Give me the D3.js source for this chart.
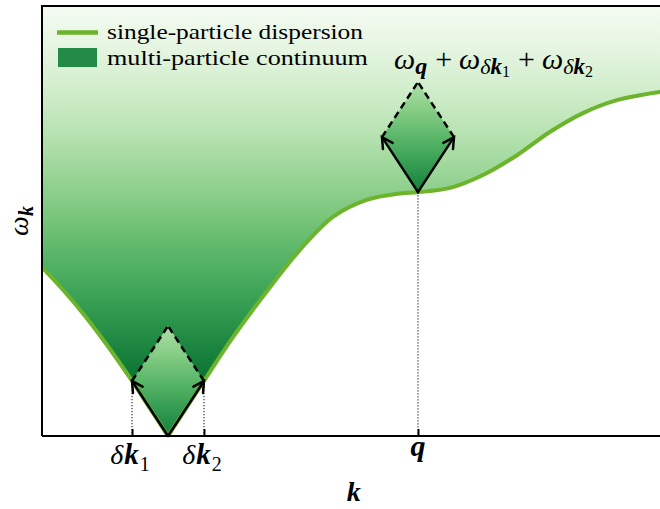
<!DOCTYPE html>
<html>
<head>
<meta charset="utf-8">
<script src="https://cdn.jsdelivr.net/npm/d3@7"></script>
<style>
  html, body { margin: 0; padding: 0; background: #fff; }
  svg text { font-family: "Liberation Serif", "Times New Roman", serif; fill: #000; }
</style>
</head>
<body>
<svg id="chart" width="660" height="509" font-family="Liberation Serif, serif"></svg>
<script>
// Single-particle dispersion ω(k), sampled along the wavevector axis
const waveK  = [0, 0.333, 0.667, 1.0, 1.429, 1.714, 2.0, 2.286, 2.571, 3.037, 3.567, 4.095, 4.624, 5.154, 5.683, 5.968, 6.476, 7.0, 7.54, 8.06, 8.587, 9.127, 9.81, 10.2];
const omegaK = [3.93, 3.40, 2.82, 2.18, 1.28, 0.64, 0, 0.64, 1.28, 2.31, 3.36, 4.33, 5.10, 5.49, 5.64, 5.67, 5.77, 6.07, 6.53, 7.07, 7.51, 7.81, 8.0, 8.06];
const cuspIndex = 6;                 // the gapless minimum of the V

// Two small momenta δk1, δk2 on either side of the minimum, and the momentum q
const deltaK     = [1.429, 2.571];
const deltaOmega = [1.28, 1.28];
const qK = 5.968, qOmega = 5.67;

// Axis tick positions
const tickValues = [deltaK[0], deltaK[1], qK];

// Legend entries
const legendLabels = ["single-particle dispersion", "multi-particle continuum"];

const svg = d3.select("#chart");
const W = 660, H = 509;
const SERIF = "Liberation Serif, Times New Roman, serif";

const x = d3.scaleLinear().domain([0, 10]).range([42, 672]);
const y = d3.scaleLinear().domain([0, 10]).range([436, 6]);
const yTop = y(10), yBot = y(0);

const defs = svg.append("defs");

// Continuum shading: pale at the top, deep green towards ω = 0
const contGrad = defs.append("linearGradient")
  .attr("id", "contGrad").attr("gradientUnits", "userSpaceOnUse")
  .attr("x1", 0).attr("x2", 0).attr("y1", yTop).attr("y2", yBot);
d3.range(0, 1.0001, 0.1).forEach(f => {
  contGrad.append("stop").attr("offset", f)
    .attr("stop-color", d3.interpolateGreens(0.02 + 0.95 * f));
});

// Diamond shading
const diaGrad = defs.append("linearGradient")
  .attr("id", "diaGrad").attr("x1", 0).attr("x2", 0).attr("y1", 0).attr("y2", 1);
d3.range(0, 1.0001, 0.25).forEach(f => {
  diaGrad.append("stop").attr("offset", f)
    .attr("stop-color", d3.interpolateGreens(0.33 + 0.47 * f));
});

defs.append("clipPath").attr("id", "plotClip")
  .append("rect").attr("x", x(0)).attr("y", yTop).attr("width", W - x(0)).attr("height", yBot - yTop);

const pts = waveK.map((k, i) => [k, omegaK[i]]);
const leftBranch = pts.slice(0, cuspIndex + 1);
const rightBranch = pts.slice(cuspIndex);

const line = d3.line().x(d => x(d[0])).y(d => y(d[1])).curve(d3.curveCatmullRom.alpha(0.5));
const leftD = line(leftBranch);
const rightD = line(rightBranch).replace(/^M/, "L");

const plot = svg.append("g").attr("clip-path", "url(#plotClip)");

// Multi-particle continuum: everything above the dispersion
const lastK = waveK[waveK.length - 1];
plot.append("path")
  .attr("d", `M${x(0)},${yTop}L${leftD.slice(1)}${rightD}L${x(lastK)},${yTop}Z`)
  .attr("fill", "url(#contGrad)");

// Diamonds: bottom at a base point, sides are the two small-momentum excitations
function diamond(bk, bw) {
  const bottom = [bk, bw];
  const left = [bk - (waveK[cuspIndex] - deltaK[0]), bw + deltaOmega[0]];
  const right = [bk + (deltaK[1] - waveK[cuspIndex]), bw + deltaOmega[1]];
  const top = [bk, bw + deltaOmega[0] + deltaOmega[1]];
  return { bottom, left, right, top };
}
const diamonds = [diamond(waveK[cuspIndex], omegaK[cuspIndex]), diamond(qK, qOmega)];

const P = d => [x(d[0]), y(d[1])];

plot.selectAll("path.dia").data(diamonds).join("path")
  .attr("class", "dia")
  .attr("d", d => "M" + [d.bottom, d.left, d.top, d.right].map(P).map(p => p.join(",")).join("L") + "Z")
  .attr("fill", "url(#diaGrad)");

// Dotted drop lines to the k axis
const drops = [[deltaK[0], deltaOmega[0]], [deltaK[1], deltaOmega[1]], [qK, qOmega]];
svg.selectAll("line.drop").data(drops).join("line")
  .attr("class", "drop")
  .attr("x1", d => x(d[0])).attr("x2", d => x(d[0]))
  .attr("y1", d => y(d[1])).attr("y2", yBot)
  .attr("stroke", "#444").attr("stroke-width", 1.3).attr("stroke-dasharray", "1.4,1.6");

// Dispersion curve
plot.append("path")
  .attr("d", leftD + rightD)
  .attr("fill", "none").attr("stroke", "#6bb42b").attr("stroke-width", 4)
  .attr("stroke-linejoin", "miter");

// Arrows (solid) and the summed excitation (dashed)
const arrowG = svg.append("g").attr("stroke", "#000").attr("stroke-width", 2.5).attr("fill", "none");
diamonds.forEach(d => {
  [d.left, d.right].forEach(v => {
    const [x0, y0] = P(d.bottom), [x1, y1] = P(v);
    arrowG.append("line").attr("x1", x0).attr("y1", y0).attr("x2", x1).attr("y2", y1)
      .attr("stroke-linecap", "round");
    const ang = Math.atan2(y0 - y1, x0 - x1), len = 12, spread = 0.5;
    const a1 = [x1 + len * Math.cos(ang + spread), y1 + len * Math.sin(ang + spread)];
    const a2 = [x1 + len * Math.cos(ang - spread), y1 + len * Math.sin(ang - spread)];
    arrowG.append("path").attr("d", `M${a1}L${x1},${y1}L${a2}`)
      .attr("stroke-linejoin", "miter").attr("stroke-linecap", "round");
    const [xt, yt] = P(d.top);
    arrowG.append("line").attr("x1", x1).attr("y1", y1).attr("x2", xt).attr("y2", yt)
      .attr("stroke-dasharray", "7,4.5");
  });
});

// Axes frame
const frame = svg.append("g").attr("stroke", "#000").attr("stroke-width", 2).attr("fill", "none");
frame.append("path").attr("d", `M${W + 5},${yTop}H${x(0)}V${yBot}`);
const xAxis = d3.axisBottom(x).tickValues(tickValues).tickSizeInner(-7).tickSizeOuter(0).tickFormat("");
const axG = svg.append("g").attr("transform", `translate(0,${yBot})`).call(xAxis);
axG.select(".domain").attr("stroke-width", 2).attr("d", `M${x(0)},0H${W + 5}`);
axG.selectAll(".tick line").attr("stroke-width", 2);

// Rich text helper: runs of {t, it, b, size, dy, dx}
function richText(sel, runs) {
  sel.attr("font-family", SERIF);
  runs.forEach(r => {
    const ts = sel.append("tspan").text(r.t).attr("font-family", SERIF);
    if (r.it) ts.attr("font-style", "italic");
    if (r.b) ts.attr("font-weight", "bold");
    if (r.size) ts.style("font-size", r.size + "px");
    if (r.dy) ts.attr("dy", r.dy);
    if (r.dx) ts.attr("dx", r.dx);
  });
  return sel;
}

// Tick labels
const dkLabel = i => [
  { t: "δ", it: true, size: 28 },
  { t: "k", it: true, b: true, size: 29, dx: 1 },
  { t: String(i), size: 20, dy: 7, dx: 1 }
];
svg.append("text").attr("x", x(deltaK[0]) - 2).attr("y", 464).attr("text-anchor", "middle")
  .call(s => richText(s, dkLabel(1)));
svg.append("text").attr("x", x(deltaK[1]) - 2).attr("y", 464).attr("text-anchor", "middle")
  .call(s => richText(s, dkLabel(2)));
svg.append("text").attr("x", x(qK)).attr("y", 456).attr("text-anchor", "middle")
  .call(s => richText(s, [{ t: "q", it: true, b: true, size: 30 }]));

// Axis titles
svg.append("text").attr("x", x(4.95)).attr("y", 501).attr("text-anchor", "middle")
  .call(s => richText(s, [{ t: "k", it: true, b: true, size: 28 }]));
svg.append("text").attr("transform", "translate(28,221) rotate(-90)").attr("text-anchor", "middle")
  .call(s => richText(s, [
    { t: "ω", it: true, size: 28 },
    { t: "k", it: true, b: true, size: 20, dy: 5 }
  ]));

// Sum of energies above the upper diamond
svg.append("text").attr("x", 394).attr("y", 69)
  .call(s => richText(s, [
    { t: "ω", it: true, size: 30 },
    { t: "q", it: true, b: true, size: 24, dy: 5 },
    { t: "+", size: 30, dy: -5, dx: 8 },
    { t: "ω", it: true, size: 30, dx: 7 },
    { t: "δ", it: true, size: 22, dy: 5 },
    { t: "k", it: true, b: true, size: 23 },
    { t: "1", size: 16, dy: 3 },
    { t: "+", size: 30, dy: -8, dx: 8 },
    { t: "ω", it: true, size: 30, dx: 7 },
    { t: "δ", it: true, size: 22, dy: 5 },
    { t: "k", it: true, b: true, size: 23 },
    { t: "2", size: 16, dy: 3 }
  ]));

// Legend
const lg = svg.append("g");
lg.append("line").attr("x1", 57).attr("x2", 98).attr("y1", 32.5).attr("y2", 32.5)
  .attr("stroke", "#6bb42b").attr("stroke-width", 4.5);
lg.append("rect").attr("x", 58).attr("y", 48).attr("width", 39).attr("height", 19)
  .attr("fill", d3.interpolateGreens(0.75));
lg.append("text").attr("x", 107).attr("y", 39).attr("font-family", SERIF).style("font-size", "21px")
  .attr("textLength", 256).attr("lengthAdjust", "spacingAndGlyphs").text(legendLabels[0]);
lg.append("text").attr("x", 107).attr("y", 65).attr("font-family", SERIF).style("font-size", "21px")
  .attr("textLength", 261).attr("lengthAdjust", "spacingAndGlyphs").text(legendLabels[1]);
</script>
</body>
</html>
